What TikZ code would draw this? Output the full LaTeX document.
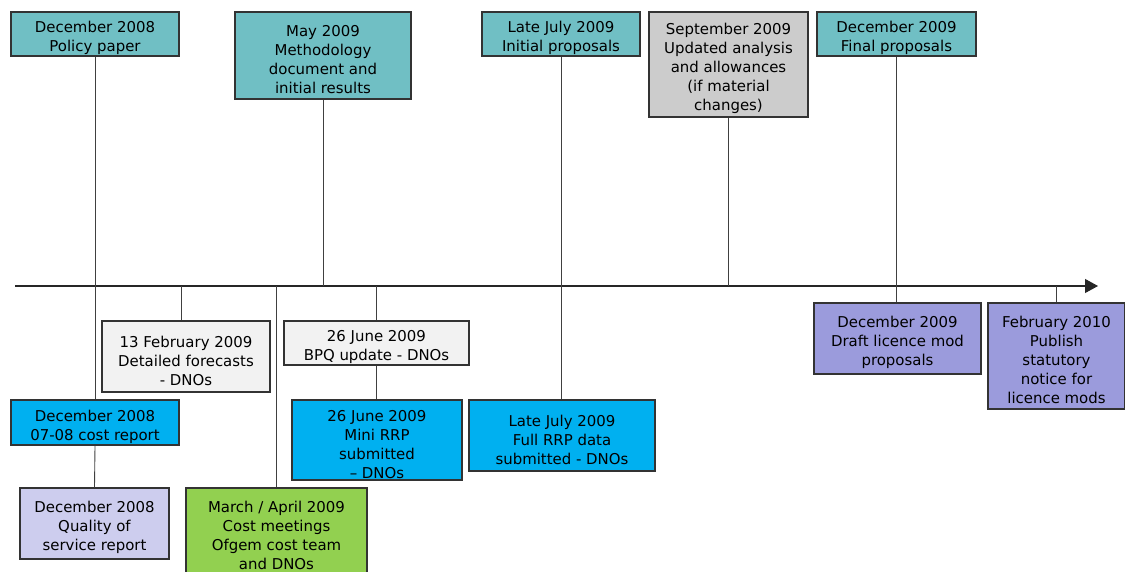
\documentclass[tikz,border=0pt]{standalone}
\usepackage{fontspec}
\setmainfont{DejaVu Sans}
\usepackage{xcolor}
\usepackage{tikz}
\usetikzlibrary{arrows.meta}

\definecolor{teal1}{HTML}{70BFC4}
\definecolor{sky1}{HTML}{00B0F0}
\definecolor{grn1}{HTML}{92D050}
\definecolor{lav1}{HTML}{CDCDEE}
\definecolor{prp1}{HTML}{9B9BDC}
\definecolor{gry1}{HTML}{CCCCCC}
\definecolor{pale1}{HTML}{F2F2F2}

% strut on the first line, pushes the text a little down
\newcommand{\fstrut}{\rule{0pt}{11pt}}

\begin{document}
\begin{tikzpicture}[x=0.02cm, y=-0.02cm,
		ev/.style n args={3}{
			rectangle,
			draw=black!80,
			line width=0.6pt,
			fill=#1,
			minimum width=#2*0.02cm,
			minimum height=#3*0.02cm,
			inner sep=0pt,
			align=center,
			font=\fontsize{8.5}{10.8}\selectfont},
		tick/.style={draw=black!75, line width=0.5pt}
		]
		\useasboundingbox (0,0) rectangle (1125,571);
		% time axis
		\coordinate (axs) at (15,286);
		\coordinate (axe) at (1098,286);
		\draw[line width=0.6pt, black!85, -{Triangle[length=0.26cm,width=0.28cm]}] (axs) -- (axe);
		% above the axis
		\node [ev={teal1}{168}{44}] (pp) at (95, 34) {\fstrut December 2008\\Policy paper};
		\node [ev={teal1}{176}{87}] (meth) at (323, 55.5) {\fstrut May 2009\\Methodology\\document and\\initial results};
		\node [ev={teal1}{158}{44}] (initp) at (561, 34) {\fstrut Late July 2009\\Initial proposals};
		\node [ev={gry1}{159}{105}] (sept) at (728.5, 64.5) {\fstrut September 2009\\Updated analysis\\and allowances\\(if material\\changes)};
		\node [ev={teal1}{159}{44}] (finalp) at (896.5, 34) {\fstrut December 2009\\Final proposals};
		% below the axis
		\node [ev={pale1}{168}{71}] (feb) at (186, 356.5) {\fstrut 13 February 2009\\Detailed forecasts\\- DNOs};
		\node [ev={pale1}{185}{44}] (bpq) at (376.5, 343) {\fstrut 26 June 2009\\BPQ update - DNOs};
		\node [ev={sky1}{168}{45}] (costrep) at (95, 422.5) {\fstrut December 2008\\07-08 cost report};
		\node [ev={lav1}{149}{71}] (qos) at (94.5, 523.5) {\fstrut December 2008\\Quality of\\service report};
		\node [ev={grn1}{181}{87}] (cmeet) at (276.5, 531.5) {\fstrut March / April 2009\\Cost meetings\\Ofgem cost team\\and DNOs};
		\node [ev={sky1}{170}{80}] (mini) at (377, 440) {\fstrut 26 June 2009\\Mini RRP\\submitted\\– DNOs};
		\node [ev={sky1}{186}{71}] (full) at (562, 435.5) {\fstrut Late July 2009\\Full RRP data\\submitted - DNOs};
		\node [ev={prp1}{167}{71}] (draft) at (897.5, 338.5) {\fstrut December 2009\\Draft licence mod\\proposals};
		\node [ev={prp1}{137}{106}] (pub) at (1056.5, 356) {\fstrut February 2010\\Publish\\statutory\\notice for\\licence mods};
		\coordinate (febt) at (181, 286);
		% connectors
		\draw[tick] (pp.south) to (costrep.north);
		\draw[tick] (costrep.south) to (qos.north);
		\draw[tick] (meth.south) to (meth.south |- axs);
		\draw[tick] (initp.south) to (initp.south |- full.north);
		\draw[tick] (sept.south) to (sept.south |- axs);
		\draw[tick] (finalp.south) to (draft.north -| finalp.south);
		\draw[tick] (febt) to (febt |- feb.north);
		\draw[tick] (bpq.north |- axs) to (bpq.north);
		\draw[tick] (bpq.south) to (bpq.south |- mini.north);
		\draw[tick] (cmeet.north |- axs) to (cmeet.north);
		\draw[tick] (pub.north |- axs) to (pub.north);
\end{tikzpicture}
\end{document}
